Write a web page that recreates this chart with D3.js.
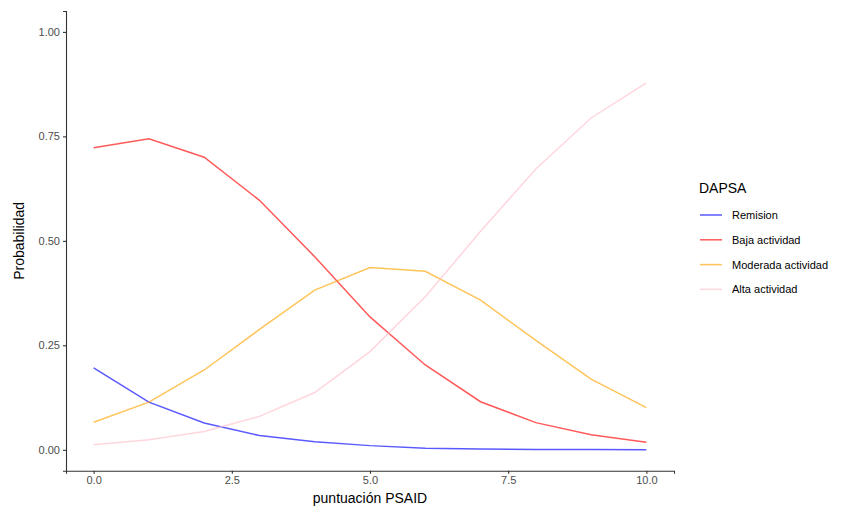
<!DOCTYPE html>
<html>
<head>
<meta charset="utf-8">
<script src="https://cdn.jsdelivr.net/npm/d3@7"></script>
<style>
  body { margin: 0; background: #fff; }
  svg { display: block; font-family: "Liberation Sans", Arial, sans-serif; }
</style>
</head>
<body>
<svg id="chart" width="843" height="512"></svg>
<script>
const xValues = [0, 1, 2, 3, 4, 5, 6, 7, 8, 9, 10];
const seriesNames = ["Remision", "Baja actividad", "Moderada actividad", "Alta actividad"];
const remision = [0.196, 0.114, 0.064, 0.034, 0.019, 0.010, 0.004, 0.002, 0.001, 0.0005, 0.0003];
const baja = [0.723, 0.744, 0.700, 0.597, 0.462, 0.318, 0.203, 0.115, 0.065, 0.036, 0.018];
const moderada = [0.066, 0.114, 0.191, 0.288, 0.382, 0.436, 0.427, 0.358, 0.262, 0.169, 0.101];
const alta = [0.012, 0.024, 0.044, 0.080, 0.137, 0.235, 0.366, 0.523, 0.672, 0.794, 0.878];
const xTicks = [0, 2.5, 5, 7.5, 10];
const yTicks = [0, 0.25, 0.5, 0.75, 1];
const colors = ["blue", "red", "orange", "pink"];

const seriesValues = [remision, baja, moderada, alta];

const svg = d3.select("#chart");
const pLeft = 66, pRight = 674, pTop = 11, pBottom = 470.7;

const x = d3.scaleLinear().domain([-0.5, 10.5]).range([pLeft, pRight]);
const y = d3.scaleLinear().domain([-0.05, 1.05]).range([pBottom, pTop]);

// axes
const xAxis = d3.axisBottom(x).tickValues(xTicks).tickFormat(d3.format(".1f")).tickSizeOuter(0).tickSize(3).tickPadding(3);
const yAxis = d3.axisLeft(y).tickValues(yTicks).tickFormat(d3.format(".2f")).tickSizeOuter(0).tickSize(3).tickPadding(3);

const gx = svg.append("g").attr("transform", `translate(0,${pBottom})`).call(xAxis);
const gy = svg.append("g").attr("transform", `translate(${pLeft},0)`).call(yAxis);

[gx, gy].forEach(g => {
  g.select(".domain").attr("stroke", "#333").attr("stroke-width", 1.1);
  g.selectAll(".tick line").attr("stroke", "#333").attr("stroke-width", 1.1);
  g.selectAll(".tick text").attr("fill", "#4d4d4d").style("font-size", "11px");
});

// lines
const line = d3.line().x((d, i) => x(xValues[i])).y(d => y(d));
seriesValues.forEach((vals, k) => {
  svg.append("path")
    .datum(vals)
    .attr("fill", "none")
    .attr("stroke", colors[k])
    .attr("stroke-opacity", 0.65)
    .attr("stroke-width", 1.5)
    .attr("d", line);
});

// axis titles
svg.append("text")
  .attr("x", (pLeft + pRight) / 2).attr("y", 503)
  .attr("text-anchor", "middle")
  .style("font-size", "14px").attr("fill", "#000")
  .text("puntuación PSAID");

svg.append("text")
  .attr("transform", `translate(24,${(pTop + pBottom) / 2}) rotate(-90)`)
  .attr("text-anchor", "middle")
  .style("font-size", "14px").attr("fill", "#000")
  .text("Probabilidad");

// legend
const lg = svg.append("g");
lg.append("text").attr("x", 699).attr("y", 193)
  .style("font-size", "14px").attr("fill", "#000").text("DAPSA");
seriesNames.forEach((name, k) => {
  const yy = 215 + k * 24.8;
  lg.append("line").attr("x1", 700).attr("x2", 722).attr("y1", yy).attr("y2", yy)
    .attr("stroke", colors[k]).attr("stroke-opacity", 0.65).attr("stroke-width", 1.5);
  lg.append("text").attr("x", 732).attr("y", yy + 4)
    .style("font-size", "11px").attr("fill", "#000").text(name);
});
</script>
</body>
</html>
